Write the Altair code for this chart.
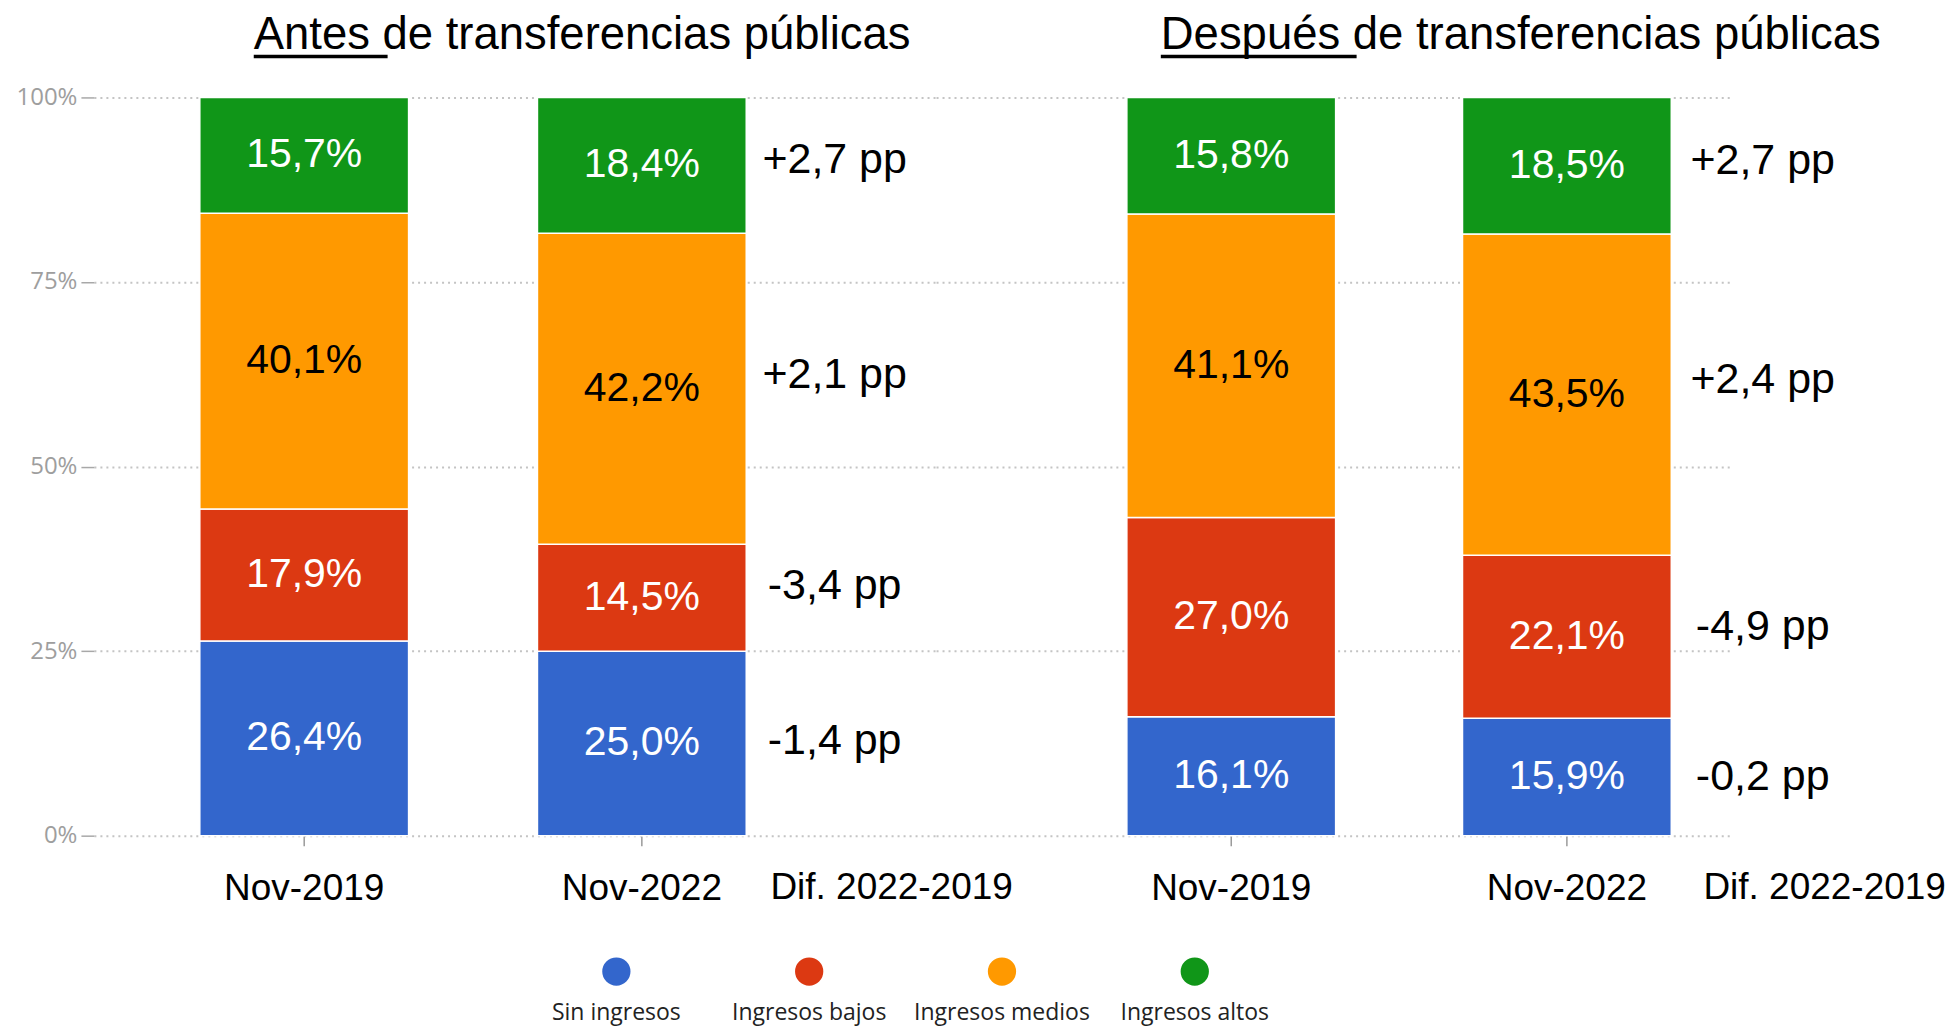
import altair as alt
import pandas as pd

# ---------------- data ----------------
groups = ["Sin ingresos", "Ingresos bajos", "Ingresos medios", "Ingresos altos"]
colors = ["#3366CC", "#DC3912", "#FF9900", "#109618"]
periods = ["Nov-2019", "Nov-2022"]

antes_2019 = [26.4, 17.9, 40.1, 15.7]
antes_2022 = [25.0, 14.5, 42.2, 18.4]
antes_dif = ["-1,4 pp", "-3,4 pp", "+2,1 pp", "+2,7 pp"]

despues_2019 = [16.1, 27.0, 41.1, 15.8]
despues_2022 = [15.9, 22.1, 43.5, 18.5]
despues_dif = ["-0,2 pp", "-4,9 pp", "+2,4 pp", "+2,7 pp"]

title_antes = "Antes de transferencias públicas"
title_despues = "Después de transferencias públicas"
dif_header = "Dif. 2022-2019"

# ---------------- layout (styling) ----------------
PLOT_H = 739
BAR_W = 209
P1_W, P1_START, P1_STEP = 843, 106, 338
P2_W, P2_START, P2_STEP = 796, 191, 336
FONT = "Liberation Sans"
PAD_LEFT = 7
PLOT_LEFT_PAGE = 90
PLOT_TOP_PAGE = 96
LEG_STEP = 193
LEG_FIRST = 613
LEG_CIRCLE_Y = 971
LEG_TEXT_Y = 1020


def band_params(width, first_start, step, n=2):
    pi = 1 - BAR_W / step
    po = (width / step - (n - pi)) / 2
    align = first_start / (width - step * (n - pi))
    return pi, po, align


def fmt(v):
    return f"{v:.1f}".replace(".", ",") + "%"


color_scale = alt.Scale(domain=groups, range=colors)


def legend_layers():
    lscale = alt.Scale(type="point", domain=groups, padding=0,
                       range=[LEG_FIRST - PLOT_LEFT_PAGE,
                              LEG_FIRST + 3 * LEG_STEP - PLOT_LEFT_PAGE])
    legend_df = pd.DataFrame({"group": groups})
    circles = alt.Chart(legend_df).mark_circle(size=800, opacity=1).encode(
        x=alt.X("group:N", scale=lscale, axis=None),
        y=alt.value(LEG_CIRCLE_Y - PLOT_TOP_PAGE),
        color=alt.Color("group:N", scale=color_scale, legend=None),
    )
    ltext = alt.Chart(legend_df).mark_text(
        font="Open Sans", fontSize=23, color="#222222", baseline="alphabetic"
    ).encode(
        x=alt.X("group:N", scale=lscale, axis=None),
        y=alt.value(LEG_TEXT_Y - PLOT_TOP_PAGE),
        text="group:N",
    )
    return [circles, ltext]


def make_panel(v19, v22, difs, title, width, start, step, title_dx,
               underline_w, header_dx, dif_dx, show_axis):
    rows = []
    for i, g in enumerate(groups):
        for p, vals in zip(periods, [v19, v22]):
            rows.append({"period": p, "group": g, "order": i,
                         "value": vals[i], "label": fmt(vals[i]),
                         "dif": difs[i]})
    df = pd.DataFrame(rows)
    pi, po, align = band_params(width, start, step)
    xscale = alt.Scale(type="band", domain=periods, paddingInner=pi,
                       paddingOuter=po, align=align)
    yscale = alt.Scale(domain=[0, 1])

    if show_axis:
        yaxis = alt.Axis(title=None, values=[0, 0.25, 0.5, 0.75, 1],
                         format=".0%", labelFont="Open Sans",
                         labelFontSize=24, labelColor="#9e9e9e",
                         tickColor="#a8a8a8", tickSize=13, tickWidth=1.5,
                         labelPadding=4, domain=False, grid=True,
                         gridDash=[2, 4], gridColor="#c4c4c4", gridWidth=2)
    else:
        yaxis = alt.Axis(title=None, values=[0, 0.25, 0.5, 0.75, 1],
                         labels=False, ticks=False, domain=False, grid=True,
                         gridDash=[2, 4], gridColor="#c4c4c4", gridWidth=2)

    xaxis = alt.Axis(title=None, labelAngle=0, labelFont=FONT,
                     labelFontSize=37, labelColor="black",
                     tickColor="#9a9a9a", tickSize=10, tickWidth=1.5,
                     domain=False, labelPadding=25)

    X_axis = alt.X("period:N", scale=xscale, axis=xaxis)
    X = alt.X("period:N", scale=xscale, axis=None)

    base = alt.Chart(df).transform_stack(
        stack="value", groupby=["period"], as_=["y0", "y1"],
        offset="normalize", sort=[alt.SortField("order", "ascending")]
    ).transform_calculate(mid="(datum.y0 + datum.y1) / 2")

    bars = base.mark_bar(stroke="white", strokeWidth=1.5).encode(
        x=X_axis,
        y=alt.Y("y0:Q", scale=yscale, axis=yaxis),
        y2="y1:Q",
        color=alt.Color("group:N", scale=color_scale, legend=None),
    )

    labels = base.mark_text(font=FONT, fontSize=41, baseline="middle").encode(
        x=X,
        y=alt.Y("mid:Q", scale=yscale, axis=yaxis),
        text="label:N",
        color=alt.condition(alt.datum.group == "Ingresos medios",
                            alt.value("black"), alt.value("white")),
    )

    dif_text = base.transform_joinaggregate(
        dmid="mean(mid)", groupby=["group"]
    ).transform_filter(alt.datum.period == periods[1]).mark_text(
        font=FONT, fontSize=43, baseline="middle", align="center",
        dx=dif_dx, color="black"
    ).encode(
        x=X,
        y=alt.Y("dmid:Q", scale=yscale, axis=yaxis),
        text="dif:N",
    )

    header = alt.Chart(pd.DataFrame({"period": [periods[1]],
                                     "t": [dif_header]})).mark_text(
        font=FONT, fontSize=37, baseline="alphabetic", align="center",
        dx=header_dx, color="black"
    ).encode(
        x=X,
        y=alt.value(PLOT_H + 63),
        text="t:N",
    )

    tdf = pd.DataFrame({"t": [title]})
    title_mark = alt.Chart(tdf).mark_text(
        font=FONT, fontSize=45.5, baseline="alphabetic", align="left",
        color="black"
    ).encode(
        x=alt.value(title_dx), y=alt.value(-48), text="t:N"
    )

    underline = alt.Chart(tdf).mark_rule(
        color="black", strokeWidth=3.5
    ).encode(
        x=alt.value(title_dx), x2=alt.value(title_dx + underline_w),
        y=alt.value(-41),
    )

    layers = [bars, labels, dif_text, header, title_mark, underline]
    if show_axis:
        layers += legend_layers()
    return alt.layer(*layers).resolve_scale(x="independent").properties(
        width=width, height=PLOT_H)


p1 = make_panel(antes_2019, antes_2022, antes_dif, title_antes, P1_W,
                P1_START, P1_STEP, 160, 134, 250, 193, True)
p2 = make_panel(despues_2019, despues_2022, despues_dif, title_despues, P2_W,
                P2_START, P2_STEP, 225, 196, 258, 196, False)

chart = alt.hconcat(p1, p2, spacing=0, bounds="flush").resolve_scale(
    x="independent"
).properties(
    padding={"left": PAD_LEFT, "top": 5, "right": 0, "bottom": 0}
).configure(background="white").configure_view(strokeWidth=0)

chart.save("out.html", embed_options={"renderer": "svg", "actions": False})
